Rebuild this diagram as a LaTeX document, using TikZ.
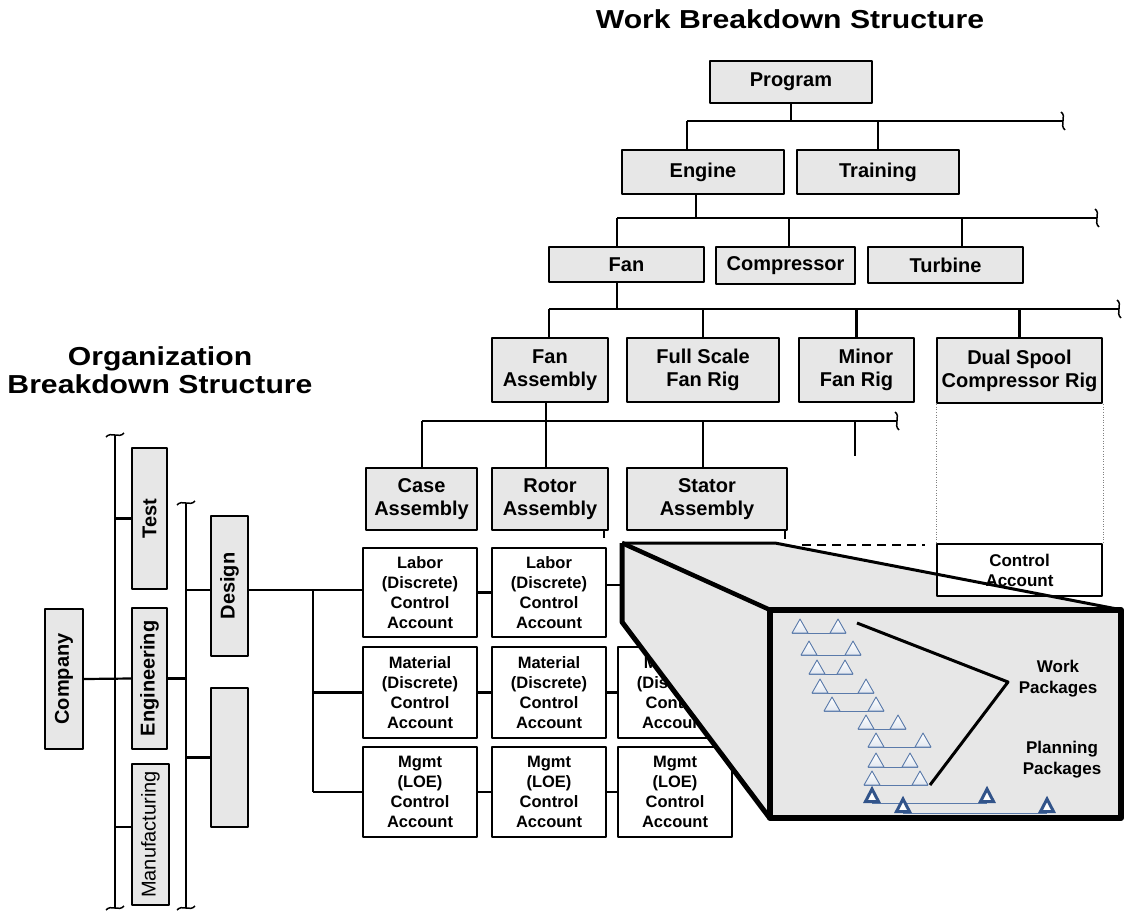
\documentclass[tikz,border=0pt]{standalone}
\usepackage{fontspec}
\usepackage{graphicx}
\setmainfont{Liberation Sans}
\usetikzlibrary{calc}
\definecolor{boxgray}{RGB}{231,231,231}
\definecolor{tri}{RGB}{90,122,170}
\definecolor{ptri}{RGB}{50,84,138}
\newcommand\fs[2]{\fontsize{#1}{#2}\selectfont}
\newcommand\vtilde[1]{\draw[line width=1.5pt, shift={(#1)}] (-2,-9) .. controls (4,-5) and (-4,4) .. (2,9);}
\newcommand\htilde[1]{\draw[line width=1.5pt, shift={(#1)}] (-9,2) .. controls (-4,-4) and (4,4) .. (9,-2);}
\newcommand\wpk[2]{\draw[tri, line width=0.9pt, top color=white, bottom color=tri!18, shift={(#1,#2)}] (-8,0) -- (0,-14) -- (8,0) -- cycle;}
\newcommand\wrow[3]{\draw[tri, line width=0.8pt] (#1-8,#3) -- (#2+8,#3); \wpk{#1}{#3}\wpk{#2}{#3}}
\newcommand\ppk[2]{\draw[ptri, line width=3pt, fill=white, line join=miter, shift={(#1,#2)}] (-6.5,-1.5) -- (0,-14) -- (6.5,-1.5) -- cycle;}
\newcommand\prow[3]{\draw[tri, line width=1pt] (#1,#3) -- (#2,#3); \ppk{#1}{#3}\ppk{#2}{#3}}
\begin{document}
\begin{tikzpicture}[x=1pt,y=-1pt, line join=round,
  wbs/.style={draw, line width=2.2pt, fill=boxgray, inner sep=0pt, align=center, font=\bfseries\fs{20}{23}},
  cacct/.style={draw, line width=2.2pt, fill=white, inner sep=0pt, align=center, font=\bfseries\fs{16.5}{20}},
  obs/.style={draw, line width=2.2pt, fill=boxgray, inner sep=0pt, font=\bfseries\fs{20}{23}},
  conn/.style={line width=2.2pt},
  ttl/.style={font=\bfseries\fs{26}{28}, align=center, inner sep=0pt},
  lbl/.style={font=\bfseries\fs{17}{21}, align=center, inner sep=0pt}]
\useasboundingbox (0,0) rectangle (1126,913);

% titles
\node[ttl] (wbstitle) at (790,19) {\scalebox{1.16}[1]{Work Breakdown Structure}};
\node[ttl] (obstitle) at (160,370) {\scalebox{1.16}[1]{Organization}\\\scalebox{1.16}[1]{Breakdown Structure}};

% WBS nodes
\node[wbs, minimum width=162pt, minimum height=42pt] (program) at (791,82) {Program};
\node[wbs, minimum width=162pt, minimum height=44pt] (engine) at (703,172) {Engine};
\node[wbs, minimum width=162pt, minimum height=44pt] (training) at (878,172) {Training};
\node[wbs, minimum width=155pt, minimum height=35pt] (fan) at (626.5,264.5) {Fan};
\node[wbs, minimum width=139pt, minimum height=37pt] (compressor) at (785.5,265.5) {Compressor};
\node[wbs, minimum width=155pt, minimum height=36pt] (turbine) at (945.5,265) {Turbine};
\node[wbs, minimum width=116pt, minimum height=64pt] (fanasm) at (550,370) {Fan\\Assembly};
\node[wbs, minimum width=152pt, minimum height=64pt] (fullscale) at (703,370) {Full Scale\\Fan Rig};
\node[wbs, minimum width=115pt, minimum height=64pt, align=right] (minor) at (856.5,370) {Minor\\Fan Rig};
\node[wbs, minimum width=165pt, minimum height=65pt] (dualspool) at (1019.5,370.5) {Dual Spool\\Compressor Rig};
\node[wbs, minimum width=111pt, minimum height=62pt] (case) at (421.5,499) {Case\\Assembly};
\node[wbs, minimum width=116pt, minimum height=62pt] (rotor) at (550,499) {Rotor\\Assembly};
\node[wbs, minimum width=160pt, minimum height=62pt] (stator) at (707,499) {Stator\\Assembly};

% WBS bars
\coordinate (b1l) at (687,121); \coordinate (b1r) at (1063,121);
\coordinate (b2l) at (617,218); \coordinate (b2r) at (1097,218);
\coordinate (b3l) at (549,309); \coordinate (b3r) at (1119,309);
\coordinate (b4l) at (422,421); \coordinate (b4r) at (897,421);
\coordinate (m4) at (855,456);

\draw[conn] (program.south) -- (program.south |- b1l);
\draw[conn] (b1l) -- (b1r);
\draw[conn] (b1l) -- (b1l |- engine.north);
\draw[conn] (training.north) -- (training.north |- b1l);
\vtilde{b1r}

\draw[conn] ([xshift=-7pt]engine.south) -- ([xshift=-7pt]engine.south |- b2l);
\draw[conn] (b2l) -- (b2r);
\draw[conn] (b2l) -- (b2l |- fan.north);
\draw[conn] ([xshift=3.5pt]compressor.north) -- ([xshift=3.5pt]compressor.north |- b2l);
\draw[conn] ([xshift=16.5pt]turbine.north) -- ([xshift=16.5pt]turbine.north |- b2l);
\vtilde{b2r}

\draw[conn] ([xshift=-9.5pt]fan.south) -- ([xshift=-9.5pt]fan.south |- b3l);
\draw[conn] (b3l) -- (b3r);
\draw[conn] (b3l) -- (b3l |- fanasm.north);
\draw[conn] (fullscale.north) -- (fullscale.north |- b3l);
\draw[conn] (minor.north) -- (minor.north |- b3l);
\draw[conn] (dualspool.north) -- (dualspool.north |- b3l);
\vtilde{b3r}

\draw[conn] ([xshift=-4pt]fanasm.south) -- ([xshift=-4pt]rotor.north);
\draw[conn] (b4l) -- (b4r);
\draw[conn] (b4l) -- (b4l |- case.north);
\draw[conn] ([xshift=-4pt]stator.north) -- ([xshift=-4pt]stator.north |- b4l);
\draw[conn] (m4 |- b4l) -- (m4);
\vtilde{b4r}

% OBS nodes
\node[obs, minimum width=38pt, minimum height=140pt] (company) at (64,679) {\rotatebox{90}{Company}};
\node[obs, minimum width=35pt, minimum height=141pt] (test) at (149.5,518.5) {\rotatebox{90}{Test}};
\node[obs, minimum width=35pt, minimum height=141pt] (engineering) at (149.5,678.5) {\rotatebox{90}{Engineering}};
\node[obs, minimum width=37pt, minimum height=141pt, font=\mdseries\fs{20}{23}] (manufacturing) at (150.5,834.5) {\rotatebox{90}{Manufacturing}};
\node[obs, minimum width=37pt, minimum height=140pt] (design) at (229.5,586) {\rotatebox{90}{Design}};
\node[obs, minimum width=37pt, minimum height=139pt] (blank) at (229.5,757.5) {};

\coordinate (aT) at (115,435); \coordinate (aB) at (115,908);
\coordinate (bT) at (186,503); \coordinate (bB) at (186,908);
\coordinate (cT) at (313,590); \coordinate (cB) at (313,792);

\draw[conn] (aT) -- (aB); \htilde{aT} \htilde{aB}
\draw[conn] (bT) -- (bB); \htilde{bT} \htilde{bB}
\draw[conn] (company.east) -- (engineering.west);
\draw[conn] (test.west -| aT) -- (test.west);
\draw[conn] ([yshift=7.5pt]manufacturing.west -| aT) -- ([yshift=7.5pt]manufacturing.west);
\draw[conn] (engineering.east) -- (engineering.east -| bT);
\draw[conn] ([yshift=-4pt]design.west -| bT) -- ([yshift=-4pt]design.west);
\draw[conn] (blank.west -| bT) -- (blank.west);
\draw[conn] ([yshift=-4pt]design.east) -- (cT) -- (cB);

% control accounts
\node[cacct, minimum width=114pt, minimum height=89pt] (lab1) at (420,592.5) {Labor\\(Discrete)\\Control\\Account};
\node[cacct, minimum width=114pt, minimum height=89pt] (lab2) at (549,592.5) {Labor\\(Discrete)\\Control\\Account};
\node[cacct, minimum width=114pt, minimum height=91pt] (mat1) at (420,692.5) {Material\\(Discrete)\\Control\\Account};
\node[cacct, minimum width=114pt, minimum height=91pt] (mat2) at (549,692.5) {Material\\(Discrete)\\Control\\Account};
\node[cacct, minimum width=114pt, minimum height=91pt] (mat3) at (675,692.5) {Material\\(Discrete)\\Control\\Account};
\node[cacct, minimum width=114pt, minimum height=90pt] (mgt1) at (420,792) {Mgmt\\(LOE)\\Control\\Account};
\node[cacct, minimum width=114pt, minimum height=90pt] (mgt2) at (549,792) {Mgmt\\(LOE)\\Control\\Account};
\node[cacct, minimum width=114pt, minimum height=90pt] (mgt3) at (675,792) {Mgmt\\(LOE)\\Control\\Account};
\coordinate (l3end) at (622,585);

\draw[conn] (cT) -- (cT -| lab1.west);
\draw[conn] (cT |- mat1.west) -- (mat1.west);
\draw[conn] (cB) -- (cB -| mgt1.west);
\draw[conn] (lab1.east) -- (lab2.west);
\draw[conn] (lab2.east |- l3end) -- (l3end);
\draw[conn] (mat1.east) -- (mat2.west);
\draw[conn] (mat2.east) -- (mat3.west);
\draw[conn] (mgt1.east) -- (mgt2.west);
\draw[conn] (mgt2.east) -- (mgt3.west);

% ticks and dashed projection
\coordinate (t1a) at (604,531); \coordinate (t1b) at (604,538);
\coordinate (t2a) at (785,531); \coordinate (t2b) at (785,539);
\draw[line width=1.5pt] (t1a) -- (t1b);
\draw[line width=1.5pt] (t2a) -- (t2b);
\coordinate (dl) at (802,545); \coordinate (dr) at (925,545);
\draw[line width=1.8pt, dash pattern=on 9pt off 6pt] (dl) -- (dr);

% zoom box
\coordinate (A) at (622,543); \coordinate (B) at (775,543);
\coordinate (F) at (622,622);
\node[draw=none, fill=boxgray, minimum width=351pt, minimum height=208pt, inner sep=0pt] (front) at (945.5,714) {};
\fill[boxgray] (A) -- (B) -- (front.north east) -- (front.south east) -- (front.south west) -- (F) -- cycle;

\draw[dotted, line width=0.6pt, gray] (dualspool.south west) -- (dualspool.south west |- 0,544);
\draw[dotted, line width=0.6pt, gray] (dualspool.south east) -- (dualspool.south east |- 0,544);
\node[cacct, font=\bfseries\fs{17}{20}, minimum width=165pt, minimum height=52pt] (ca) at (1019.5,570) {Control\\Account};

\draw[line width=3pt] (A) -- (B) -- (front.north east);
\draw[line width=5pt] (A) -- (F) -- (front.south west);
\draw[line width=4.5pt] (A) -- (front.north west);
\draw[line width=5.5pt] (front.north west) rectangle (front.south east);

% work packages
\wrow{800}{838}{633}
\wrow{809}{853}{655}
\wrow{817}{845}{674}
\wrow{820}{866}{693}
\wrow{832}{876}{711}
\wrow{866}{898}{729}
\wrow{876}{923}{747}
\wrow{876}{910}{767}
\wrow{872}{920}{785}
\prow{872}{987}{803}
\prow{903}{1047}{813}

\node[lbl] (wp) at (1058,679) {Work\\Packages};
\node[lbl] (pp) at (1062,760) {Planning\\Packages};
\coordinate (c1) at (857,623); \coordinate (cv) at (1008,682); \coordinate (c2) at (930,785);
\draw[line width=3pt] (c1) -- (cv) -- (c2);
\end{tikzpicture}
\end{document}
